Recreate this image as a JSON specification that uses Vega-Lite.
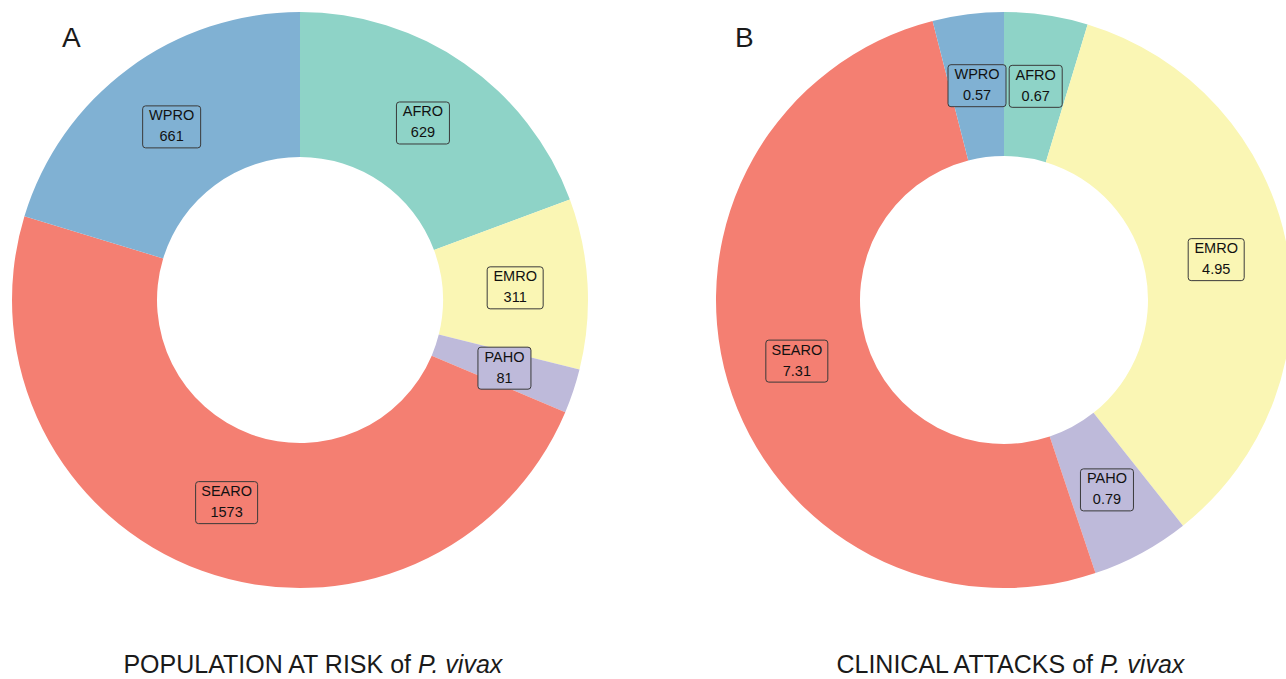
{
  "$schema": "https://vega.github.io/schema/vega-lite/v6.json",
  "padding": {"left": 12, "top": 12, "right": 0, "bottom": 0},
  "background": "white",
  "config": {
    "view": {"stroke": null},
    "font": "Liberation Sans",
    "title": {"fontWeight": "normal", "color": "#1a1a1a", "font": "Liberation Sans"}
  },
  "datasets": {
    "risk": [
      {"region": "AFRO", "value": 629},
      {"region": "EMRO", "value": 311},
      {"region": "PAHO", "value": 81},
      {"region": "SEARO", "value": 1573},
      {"region": "WPRO", "value": 661}
    ],
    "attacks": [
      {"region": "AFRO", "value": 0.67},
      {"region": "EMRO", "value": 4.95},
      {"region": "PAHO", "value": 0.79},
      {"region": "SEARO", "value": 7.31},
      {"region": "WPRO", "value": 0.57}
    ]
  },
  "spacing": 128,
  "hconcat": [
    {
      "title": {"text": "P. vivax", "orient": "bottom", "anchor": "start", "baseline": "top", "fontSize": 25, "fontStyle": "italic", "offset": -25, "dx": 406},
      "vconcat": [
        {
          "title": {"text": "POPULATION AT RISK of", "orient": "bottom", "anchor": "end", "baseline": "top", "fontSize": 25, "offset": 65, "dx": -177},
          "vconcat": [
            {
              "title": {"text": "A", "orient": "top", "anchor": "start", "baseline": "alphabetic", "fontSize": 28, "offset": -63, "dx": 50},
              "width": 576,
              "height": 576,
              "data": {"name": "risk"},
              "transform": [
                {"joinaggregate": [{"op": "sum", "field": "value", "as": "total"}]},
                {"window": [{"op": "sum", "field": "value", "as": "cum"}], "sort": [{"field": "region"}], "frame": [null, 0]},
                {"calculate": "2*PI*(datum.cum - datum.value/2)/datum.total", "as": "mid"},
                {"calculate": "0.7483*sin(datum.mid)", "as": "bx"},
                {"calculate": "0.7483*cos(datum.mid)", "as": "by"}
              ],
              "layer": [
                {
                  "mark": {"type": "arc", "innerRadius": 143, "outerRadius": 288},
                  "encoding": {
                    "theta": {"field": "value", "type": "quantitative", "stack": true},
                    "color": {"field": "region", "type": "nominal", "scale": {"domain": ["AFRO", "EMRO", "PAHO", "SEARO", "WPRO"], "range": ["#8ed3c7", "#faf6b4", "#bebada", "#f47f72", "#80b1d3"]}, "legend": null}
                  }
                },
                {
                  "mark": {"type": "point", "filled": true, "opacity": 1, "size": 1764, "stroke": "#3a3a3a", "strokeWidth": 1},
                  "encoding": {
                    "x": {"field": "bx", "type": "quantitative", "scale": {"domain": [-1, 1], "nice": false, "zero": false}, "axis": null},
                    "y": {"field": "by", "type": "quantitative", "scale": {"domain": [-1, 1], "nice": false, "zero": false}, "axis": null},
                    "color": {"field": "region", "type": "nominal", "scale": {"domain": ["AFRO", "EMRO", "PAHO", "SEARO", "WPRO"], "range": ["#8ed3c7", "#faf6b4", "#bebada", "#f47f72", "#80b1d3"]}, "legend": null},
                    "shape": {"field": "region", "type": "nominal", "legend": null, "scale": {"domain": ["AFRO", "EMRO", "PAHO", "SEARO", "WPRO"], "range": [
                      "M -1.122 -1 L 1.122 -1 Q 1.262 -1 1.262 -0.86 L 1.262 0.86 Q 1.262 1 1.122 1 L -1.122 1 Q -1.262 1 -1.262 0.86 L -1.262 -0.86 Q -1.262 -1 -1.122 -1 Z",
                      "M -1.193 -1 L 1.193 -1 Q 1.333 -1 1.333 -0.86 L 1.333 0.86 Q 1.333 1 1.193 1 L -1.193 1 Q -1.333 1 -1.333 0.86 L -1.333 -0.86 Q -1.333 -1 -1.193 -1 Z",
                      "M -1.122 -1 L 1.122 -1 Q 1.262 -1 1.262 -0.86 L 1.262 0.86 Q 1.262 1 1.122 1 L -1.122 1 Q -1.262 1 -1.262 0.86 L -1.262 -0.86 Q -1.262 -1 -1.122 -1 Z",
                      "M -1.336 -1 L 1.336 -1 Q 1.476 -1 1.476 -0.86 L 1.476 0.86 Q 1.476 1 1.336 1 L -1.336 1 Q -1.476 1 -1.476 0.86 L -1.476 -0.86 Q -1.476 -1 -1.336 -1 Z",
                      "M -1.241 -1 L 1.241 -1 Q 1.381 -1 1.381 -0.86 L 1.381 0.86 Q 1.381 1 1.241 1 L -1.241 1 Q -1.381 1 -1.381 0.86 L -1.381 -0.86 Q -1.381 -1 -1.241 -1 Z"
                    ]}}
                  }
                },
                {
                  "mark": {"type": "text", "dy": -10.5, "fontSize": 14.5, "baseline": "middle", "color": "#111111"},
                  "encoding": {
                    "x": {"field": "bx", "type": "quantitative"},
                    "y": {"field": "by", "type": "quantitative"},
                    "text": {"field": "region", "type": "nominal"}
                  }
                },
                {
                  "mark": {"type": "text", "dy": 10.5, "fontSize": 14.5, "baseline": "middle", "color": "#111111"},
                  "encoding": {
                    "x": {"field": "bx", "type": "quantitative"},
                    "y": {"field": "by", "type": "quantitative"},
                    "text": {"field": "value", "type": "nominal"}
                  }
                }
              ]
            }
          ]
        }
      ]
    },
    {
      "title": {"text": "P. vivax", "orient": "bottom", "anchor": "start", "baseline": "top", "fontSize": 25, "fontStyle": "italic", "offset": -25, "dx": 384},
      "vconcat": [
        {
          "title": {"text": "CLINICAL ATTACKS of", "orient": "bottom", "anchor": "end", "baseline": "top", "fontSize": 25, "offset": 65, "dx": -199},
          "vconcat": [
            {
              "title": {"text": "B", "orient": "top", "anchor": "start", "baseline": "alphabetic", "fontSize": 28, "offset": -63, "dx": 19},
              "width": 576,
              "height": 576,
              "data": {"name": "attacks"},
              "transform": [
                {"joinaggregate": [{"op": "sum", "field": "value", "as": "total"}]},
                {"window": [{"op": "sum", "field": "value", "as": "cum"}], "sort": [{"field": "region"}], "frame": [null, 0]},
                {"calculate": "2*PI*(datum.cum - datum.value/2)/datum.total", "as": "mid"},
                {"calculate": "0.75*sin(datum.mid)", "as": "bx"},
                {"calculate": "0.75*cos(datum.mid)", "as": "by"}
              ],
              "layer": [
                {
                  "mark": {"type": "arc", "innerRadius": 144, "outerRadius": 288},
                  "encoding": {
                    "theta": {"field": "value", "type": "quantitative", "stack": true},
                    "color": {"field": "region", "type": "nominal", "scale": {"domain": ["AFRO", "EMRO", "PAHO", "SEARO", "WPRO"], "range": ["#8ed3c7", "#faf6b4", "#bebada", "#f47f72", "#80b1d3"]}, "legend": null}
                  }
                },
                {
                  "mark": {"type": "point", "filled": true, "opacity": 1, "size": 1764, "stroke": "#3a3a3a", "strokeWidth": 1},
                  "encoding": {
                    "x": {"field": "bx", "type": "quantitative", "scale": {"domain": [-1, 1], "nice": false, "zero": false}, "axis": null},
                    "y": {"field": "by", "type": "quantitative", "scale": {"domain": [-1, 1], "nice": false, "zero": false}, "axis": null},
                    "color": {"field": "region", "type": "nominal", "scale": {"domain": ["AFRO", "EMRO", "PAHO", "SEARO", "WPRO"], "range": ["#8ed3c7", "#faf6b4", "#bebada", "#f47f72", "#80b1d3"]}, "legend": null},
                    "shape": {"field": "region", "type": "nominal", "legend": null, "scale": {"domain": ["AFRO", "EMRO", "PAHO", "SEARO", "WPRO"], "range": [
                      "M -1.122 -1 L 1.122 -1 Q 1.262 -1 1.262 -0.86 L 1.262 0.86 Q 1.262 1 1.122 1 L -1.122 1 Q -1.262 1 -1.262 0.86 L -1.262 -0.86 Q -1.262 -1 -1.122 -1 Z",
                      "M -1.193 -1 L 1.193 -1 Q 1.333 -1 1.333 -0.86 L 1.333 0.86 Q 1.333 1 1.193 1 L -1.193 1 Q -1.333 1 -1.333 0.86 L -1.333 -0.86 Q -1.333 -1 -1.193 -1 Z",
                      "M -1.122 -1 L 1.122 -1 Q 1.262 -1 1.262 -0.86 L 1.262 0.86 Q 1.262 1 1.122 1 L -1.122 1 Q -1.262 1 -1.262 0.86 L -1.262 -0.86 Q -1.262 -1 -1.122 -1 Z",
                      "M -1.336 -1 L 1.336 -1 Q 1.476 -1 1.476 -0.86 L 1.476 0.86 Q 1.476 1 1.336 1 L -1.336 1 Q -1.476 1 -1.476 0.86 L -1.476 -0.86 Q -1.476 -1 -1.336 -1 Z",
                      "M -1.241 -1 L 1.241 -1 Q 1.381 -1 1.381 -0.86 L 1.381 0.86 Q 1.381 1 1.241 1 L -1.241 1 Q -1.381 1 -1.381 0.86 L -1.381 -0.86 Q -1.381 -1 -1.241 -1 Z"
                    ]}}
                  }
                },
                {
                  "mark": {"type": "text", "dy": -10.5, "fontSize": 14.5, "baseline": "middle", "color": "#111111"},
                  "encoding": {
                    "x": {"field": "bx", "type": "quantitative"},
                    "y": {"field": "by", "type": "quantitative"},
                    "text": {"field": "region", "type": "nominal"}
                  }
                },
                {
                  "mark": {"type": "text", "dy": 10.5, "fontSize": 14.5, "baseline": "middle", "color": "#111111"},
                  "encoding": {
                    "x": {"field": "bx", "type": "quantitative"},
                    "y": {"field": "by", "type": "quantitative"},
                    "text": {"field": "value", "type": "nominal"}
                  }
                }
              ]
            }
          ]
        }
      ]
    }
  ]
}
